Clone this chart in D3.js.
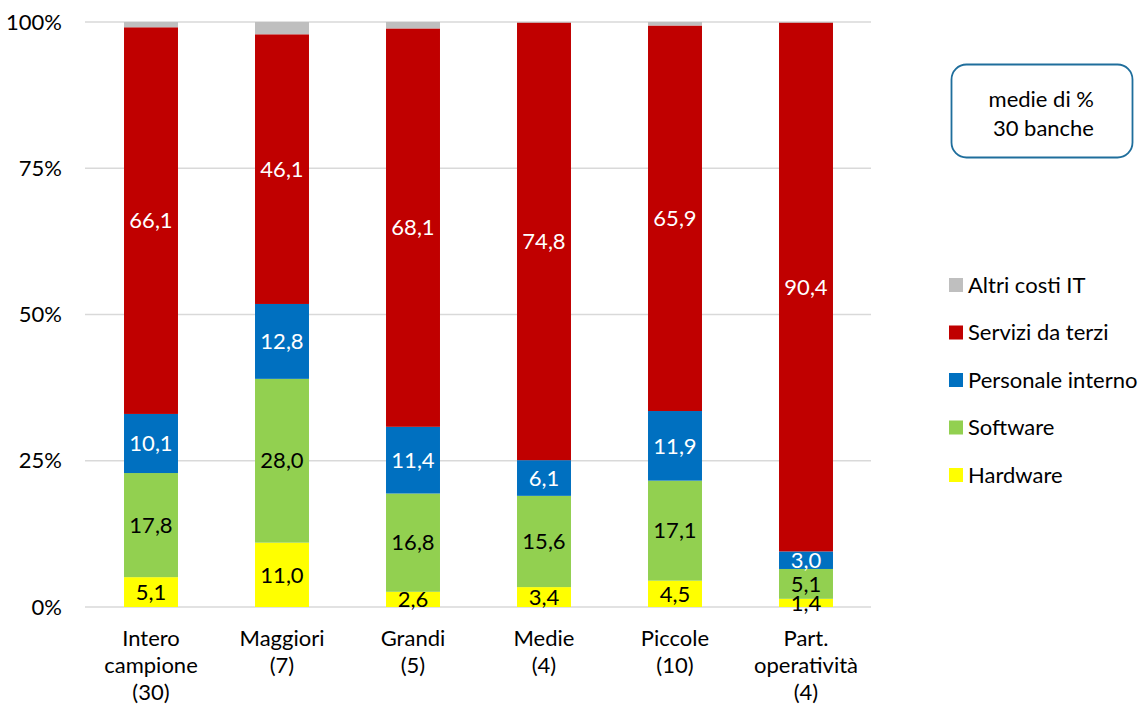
<!DOCTYPE html>
<html>
<head>
<meta charset="utf-8">
<title>Costi IT</title>
<style>
body { margin: 0; background: #fff; }
svg text { font-family: Lato, "Open Sans", sans-serif; fill: #000; }
</style>
</head>
<body>
<svg width="1143" height="708"></svg>
<script src="https://cdn.jsdelivr.net/npm/d3@7/dist/d3.min.js"></script>
<script>

// categories (lines split with \n)
var categories = ["Intero\ncampione\n(30)", "Maggiori\n(7)", "Grandi\n(5)", "Medie\n(4)", "Piccole\n(10)", "Part.\noperatività\n(4)"];

// series values (% of IT costs)
var hardware  = [5.1, 11.0, 2.6, 3.4, 4.5, 1.4];
var software  = [17.8, 28.0, 16.8, 15.6, 17.1, 5.1];
var personale = [10.1, 12.8, 11.4, 6.1, 11.9, 3.0];
var servizi   = [66.1, 46.1, 68.1, 74.8, 65.9, 90.4];
var altri     = [0.9, 2.1, 1.1, 0.1, 0.6, 0.1];

var seriesNames = ["Hardware", "Software", "Personale interno", "Servizi da terzi", "Altri costi IT"];
var seriesColors = ["#FFFF00", "#92D050", "#0070C0", "#C00000", "#BFBFBF"];
var labelColors = ["#000", "#000", "#fff", "#fff", null];

var yTicks = [0, 25, 50, 75, 100];

var fs = "22px";

var svg = d3.select("svg");

var x = d3.scaleBand().domain(d3.range(categories.length)).range([85.5, 871.5]).paddingInner(0.588).paddingOuter(0.294);
var y = d3.scaleLinear().domain([0, 100]).range([607, 22]);

// build rows for stacking
var allSeries = [hardware, software, personale, servizi, altri];
var rows = categories.map(function(c, i) {
  var r = { i: i };
  seriesNames.forEach(function(n, k) { r[n] = allSeries[k][i]; });
  return r;
});
var stacked = d3.stack().keys(seriesNames)(rows);

// gridlines
svg.append("g").selectAll("line")
  .data(yTicks).enter().append("line")
    .attr("x1", 85).attr("x2", 871)
    .attr("y1", function(d) { return y(d); })
    .attr("y2", function(d) { return y(d); })
    .attr("stroke", "#d9d9d9").attr("stroke-width", 1.5);

// y axis labels
svg.append("g").selectAll("text")
  .data(yTicks).enter().append("text")
    .attr("x", 62).attr("y", function(d) { return y(d); })
    .attr("dy", "0.35em").attr("text-anchor", "end")
    .style("font-size", fs)
    .text(function(d) { return d + "%"; });

// bars
var layer = svg.append("g").selectAll("g")
  .data(stacked).enter().append("g")
    .attr("fill", function(d, k) { return seriesColors[k]; });

layer.selectAll("rect")
  .data(function(d) { return d; })
  .enter().append("rect")
    .attr("x", function(d) { return x(d.data.i); })
    .attr("width", x.bandwidth())
    .attr("y", function(d) { return y(d[1]); })
    .attr("height", function(d) { return y(d[0]) - y(d[1]); });

// value labels
stacked.forEach(function(s, k) {
  if (!labelColors[k]) return;
  svg.append("g").selectAll("text")
    .data(s).enter().append("text")
      .attr("x", function(d) { return x(d.data.i) + x.bandwidth() / 2; })
      .attr("y", function(d) { return (y(d[0]) + y(d[1])) / 2; })
      .attr("dy", "0.35em")
      .attr("text-anchor", "middle")
      .style("font-size", fs)
      .style("fill", labelColors[k])
      .text(function(d) { return d3.format(".1f")(d[1] - d[0]).replace(".", ","); });
});

// category labels
var cat = svg.append("g").selectAll("text")
  .data(categories).enter().append("text")
    .attr("x", function(d, i) { return x(i) + x.bandwidth() / 2; })
    .attr("y", 646)
    .attr("text-anchor", "middle")
    .style("font-size", fs);
cat.each(function(d) {
  var t = d3.select(this);
  d.split("\n").forEach(function(line, j) {
    t.append("tspan")
      .attr("x", t.attr("x"))
      .attr("dy", j === 0 ? 0 : 27)
      .text(line);
  });
});

// legend (top to bottom reversed order)
var legendItems = seriesNames.slice().reverse();
var legendCols = seriesColors.slice().reverse();
var legend = svg.append("g").selectAll("g")
  .data(legendItems).enter().append("g")
    .attr("transform", function(d, i) { return "translate(949," + (285 + i * 47.5) + ")"; });
legend.append("rect")
    .attr("x", 0).attr("y", -7).attr("width", 14).attr("height", 14)
    .attr("fill", function(d, i) { return legendCols[i]; });
legend.append("text")
    .attr("x", 19).attr("dy", "0.35em")
    .style("font-size", fs)
    .text(function(d) { return d; });

// note box
svg.append("rect")
    .attr("x", 951.5).attr("y", 64.5).attr("width", 181).attr("height", 93)
    .attr("rx", 15)
    .attr("fill", "#fff").attr("stroke", "#1F6E9C").attr("stroke-width", 1.8);
svg.append("text")
    .attr("x", 1094).attr("y", 99).attr("dy", "0.35em").attr("text-anchor", "end")
    .style("font-size", fs).text("medie di %");
svg.append("text")
    .attr("x", 1094).attr("y", 128).attr("dy", "0.35em").attr("text-anchor", "end")
    .style("font-size", fs).text("30 banche");

</script>
</body>
</html>
